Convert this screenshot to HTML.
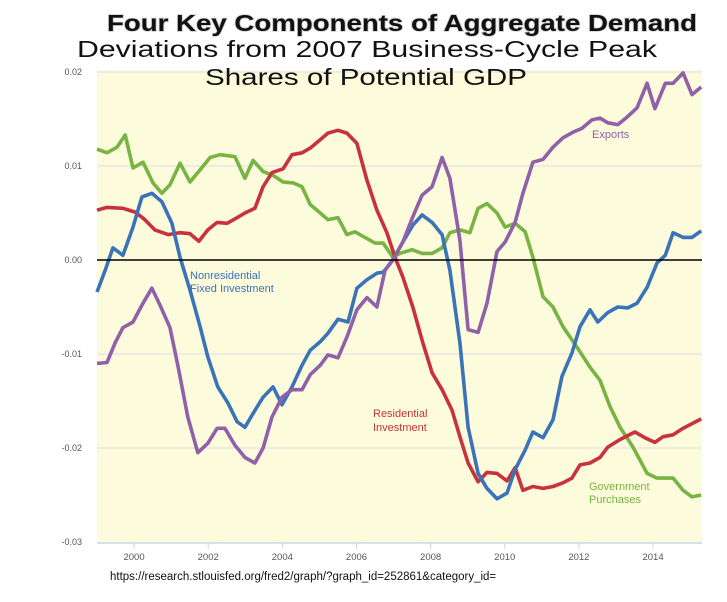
<!DOCTYPE html>
<html><head><meta charset="utf-8"><style>
body{margin:0;background:#fff;width:727px;height:602px;overflow:hidden;font-family:"Liberation Sans",Arial,sans-serif}
svg{display:block}
</style></head><body>
<svg id="chart" width="727" height="602" viewBox="0 0 727 602">
<rect x="97" y="70" width="605" height="473" fill="#fcfbdc"/>
<g id="grid"></g>
<g id="axes"></g>
<g id="lines"></g>
<text x="107" y="31" font-size="23" font-weight="bold" fill="#111" textLength="590" lengthAdjust="spacingAndGlyphs" style="paint-order:stroke" stroke="#ccc" stroke-width="1.5">Four Key Components of Aggregate Demand</text>
<text x="77" y="57" font-size="23" fill="#111" textLength="580" lengthAdjust="spacingAndGlyphs">Deviations from 2007 Business-Cycle Peak</text>
<text x="205" y="85" font-size="23" fill="#111" textLength="322" lengthAdjust="spacingAndGlyphs">Shares of Potential GDP</text>
<text x="190" y="279" font-size="11" fill="#3a73b8">Nonresidential</text>
<text x="190" y="292" font-size="11" fill="#3a73b8">Fixed Investment</text>
<text x="592" y="138" font-size="11" fill="#9060a8">Exports</text>
<text x="373" y="417" font-size="11" fill="#c8323c">Residential</text>
<text x="373" y="431" font-size="11" fill="#c8323c">Investment</text>
<text x="589" y="490" font-size="11" fill="#78b444">Government</text>
<text x="589" y="503" font-size="11" fill="#78b444">Purchases</text>
<text x="110" y="580" font-size="11.5" fill="#111">https://research.stlouisfed.org/fred2/graph/?graph_id=252861&amp;category_id=</text>
</svg>
<script>
const yTicks=[0.02,0.01,0.00,-0.01,-0.02,-0.03];
const yTickLabels=["0.02","0.01","0.00","-0.01","-0.02","-0.03"];
const xTicks=[2000,2002,2004,2006,2008,2010,2012,2014];
const govDates=[1999.00,1999.27,1999.54,1999.76,1999.97,2000.24,2000.51,2000.75,2000.97,2001.24,2001.51,2001.78,2002.05,2002.32,2002.72,2002.99,2003.21,2003.48,2003.75,2004.02,2004.29,2004.53,2004.75,2005.02,2005.23,2005.50,2005.74,2005.96,2006.23,2006.50,2006.72,2006.98,2007.17,2007.50,2007.77,2008.04,2008.31,2008.52,2008.79,2009.06,2009.28,2009.52,2009.79,2010.01,2010.28,2010.55,2010.76,2011.03,2011.30,2011.57,2011.95,2012.30,2012.57,2012.84,2013.11,2013.46,2013.84,2014.11,2014.54,2014.81,2015.05,2015.30];
const govValues=[.0118,.0114,.0120,.0133,.0098,.0104,.0082,.0071,.0080,.0103,.0083,.0096,.0109,.0112,.0110,.0087,.0106,.0094,.0090,.0083,.0082,.0078,.0059,.0050,.0043,.0045,.0027,.0030,.0024,.0018,.0018,.0003,.0007,.0011,.0007,.0007,.0013,.0029,.0032,.0029,.0055,.0060,.0050,.0035,.0039,.0030,.0003,-.0039,-.0050,-.0071,-.0093,-.0114,-.0128,-.0156,-.0178,-.0199,-.0227,-.0232,-.0232,-.0245,-.0252,-.0250];
const resDates=[1999.00,1999.27,1999.70,2000.03,2000.29,2000.56,2000.92,2001.24,2001.51,2001.75,2001.99,2002.24,2002.51,2002.78,2002.99,2003.26,2003.48,2003.72,2004.02,2004.26,2004.53,2004.75,2005.02,2005.23,2005.50,2005.74,2006.01,2006.28,2006.55,2006.82,2007.04,2007.25,2007.52,2007.79,2008.04,2008.31,2008.58,2008.79,2009.01,2009.28,2009.52,2009.79,2010.06,2010.28,2010.49,2010.76,2011.03,2011.30,2011.57,2011.81,2012.03,2012.30,2012.57,2012.78,2013.11,2013.51,2013.78,2014.05,2014.27,2014.54,2014.81,2015.30];
const resValues=[.0053,.0056,.0055,.0051,.0043,.0032,.0027,.0029,.0028,.0020,.0032,.0040,.0039,.0045,.0050,.0055,.0078,.0093,.0097,.0112,.0114,.0119,.0128,.0135,.0138,.0135,.0124,.0085,.0053,.0029,.0003,-.0018,-.0050,-.0088,-.0120,-.0138,-.0160,-.0188,-.0216,-.0236,-.0226,-.0227,-.0235,-.0221,-.0245,-.0241,-.0243,-.0241,-.0237,-.0232,-.0218,-.0216,-.0210,-.0199,-.0191,-.0183,-.0189,-.0194,-.0188,-.0186,-.0179,-.0169];
const nonresDates=[1999.00,1999.22,1999.43,1999.70,1999.97,2000.21,2000.48,2000.75,2001.02,2001.24,2001.51,2001.78,2001.99,2002.26,2002.53,2002.78,2002.99,2003.26,2003.48,2003.75,2003.99,2004.26,2004.53,2004.75,2005.02,2005.23,2005.50,2005.77,2006.01,2006.28,2006.55,2006.72,2006.98,2007.25,2007.52,2007.77,2008.04,2008.31,2008.52,2008.79,2009.01,2009.28,2009.52,2009.79,2010.06,2010.28,2010.55,2010.76,2011.03,2011.30,2011.54,2011.81,2012.03,2012.30,2012.51,2012.78,2013.05,2013.32,2013.57,2013.84,2014.11,2014.33,2014.54,2014.81,2015.05,2015.30];
const nonresValues=[-.0034,-.0011,.0013,.0005,.0035,.0067,.0071,.0062,.0039,.0003,-.0032,-.0071,-.0103,-.0135,-.0152,-.0172,-.0178,-.0160,-.0146,-.0135,-.0154,-.0135,-.0112,-.0096,-.0087,-.0078,-.0063,-.0066,-.0030,-.0021,-.0014,-.0013,.0000,.0019,.0037,.0048,.0040,.0027,-.0011,-.0088,-.0178,-.0227,-.0243,-.0254,-.0248,-.0223,-.0202,-.0183,-.0189,-.0170,-.0124,-.0099,-.0071,-.0053,-.0066,-.0056,-.0050,-.0051,-.0046,-.0029,-.0003,.0005,.0029,.0024,.0024,.0031];
const expDates=[1999.00,1999.27,1999.49,1999.70,1999.97,2000.24,2000.48,2000.70,2000.97,2001.19,2001.45,2001.72,2001.99,2002.24,2002.45,2002.72,2002.99,2003.26,2003.48,2003.72,2003.99,2004.26,2004.53,2004.75,2005.02,2005.23,2005.50,2005.74,2006.01,2006.28,2006.55,2006.77,2006.98,2007.25,2007.52,2007.77,2008.04,2008.31,2008.52,2008.79,2009.01,2009.28,2009.52,2009.79,2010.01,2010.28,2010.49,2010.76,2011.03,2011.30,2011.57,2011.84,2012.08,2012.35,2012.57,2012.78,2013.05,2013.30,2013.57,2013.84,2014.05,2014.33,2014.54,2014.81,2015.05,2015.30];
const expValues=[-.0110,-.0109,-.0088,-.0072,-.0066,-.0046,-.0030,-.0048,-.0072,-.0114,-.0167,-.0205,-.0195,-.0179,-.0179,-.0197,-.0210,-.0216,-.0200,-.0167,-.0146,-.0138,-.0138,-.0122,-.0112,-.0101,-.0104,-.0082,-.0053,-.0040,-.0050,-.0011,.0000,.0019,.0046,.0069,.0078,.0109,.0087,.0021,-.0074,-.0077,-.0046,.0009,.0019,.0040,.0071,.0104,.0107,.0120,.0130,.0136,.0140,.0149,.0151,.0146,.0144,.0152,.0162,.0188,.0161,.0188,.0188,.0199,.0176,.0184];

const NS="http://www.w3.org/2000/svg";
function X(year){return 97+(year-1999)*37.07;}
function Y(v){return 260-v*9400;}
const grid=document.getElementById('grid'),axes=document.getElementById('axes'),lines=document.getElementById('lines');
yTicks.forEach((t,i)=>{
  if(t!==0 && t>-0.03){
    const g=document.createElementNS(NS,'line');
    
    
    g.setAttribute('x1',97);g.setAttribute('x2',702);g.setAttribute('y1',Y(t));g.setAttribute('y2',Y(t));
    g.setAttribute('stroke','#dcdce6');g.setAttribute('stroke-width','1');
    grid.appendChild(g);
  }
  const tx=document.createElementNS(NS,'text');
  
  
  tx.setAttribute('x',82);tx.setAttribute('y',Y(t)+3);tx.setAttribute('text-anchor','end');
  tx.setAttribute('font-size','9');tx.setAttribute('fill','#555');
  tx.textContent=yTickLabels[i];
  axes.appendChild(tx);
});
const ax=document.createElementNS(NS,'line');


ax.setAttribute('x1',97);ax.setAttribute('x2',702);ax.setAttribute('y1',543);ax.setAttribute('y2',543);
ax.setAttribute('stroke','#c8d8ea');ax.setAttribute('stroke-width','1.5');
axes.appendChild(ax);
xTicks.forEach(t=>{
  const tk=document.createElementNS(NS,'line');
  
  
  tk.setAttribute('x1',X(t));tk.setAttribute('x2',X(t));tk.setAttribute('y1',543);tk.setAttribute('y2',549);
  tk.setAttribute('stroke','#c8d8ea');
  axes.appendChild(tk);
  const tx=document.createElementNS(NS,'text');
  
  
  tx.setAttribute('x',X(t));tx.setAttribute('y',560);tx.setAttribute('text-anchor','middle');
  tx.setAttribute('font-size','9.5');tx.setAttribute('fill','#555');
  tx.textContent=String(t);
  axes.appendChild(tx);
});
function series(dates,vals,color,name){
  const p=document.createElementNS(NS,'path');
  
  
  p.setAttribute('d',dates.map((d,i)=>(i?'L':'M')+X(d).toFixed(1)+','+Y(vals[i]).toFixed(1)).join(''));
  p.setAttribute('fill','none');p.setAttribute('stroke',color);p.setAttribute('stroke-width','3.6');
  p.setAttribute('stroke-linejoin','round');
  lines.appendChild(p);
}
series(govDates,govValues,'#78b444','government-purchases-line');
series(resDates,resValues,'#c8323c','residential-investment-line');
series(nonresDates,nonresValues,'#3a73b8','nonresidential-investment-line');
series(expDates,expValues,'#9060a8','exports-line');
const z=document.createElementNS(NS,'line');


z.setAttribute('x1',97);z.setAttribute('x2',702);z.setAttribute('y1',Y(0));z.setAttribute('y2',Y(0));
z.setAttribute('stroke','#000');z.setAttribute('stroke-width','1.5');
lines.appendChild(z);
</script>
</body></html>
